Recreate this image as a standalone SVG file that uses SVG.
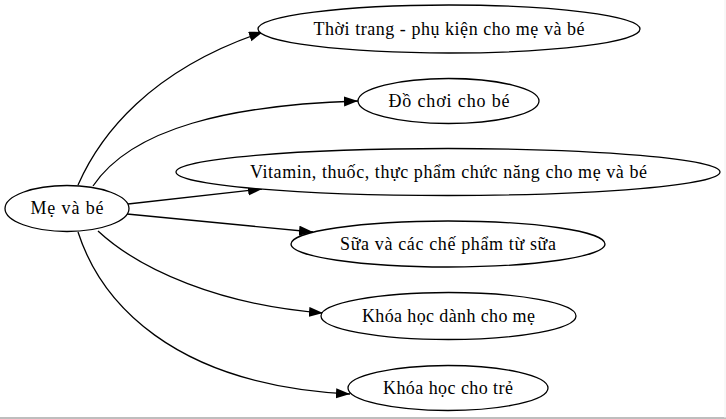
<svg xmlns="http://www.w3.org/2000/svg" width="726" height="419" viewBox="0 0 726 419">
<style>
.n ellipse{fill:#fff;stroke:#000;stroke-width:1.3}
.n text{font-family:"Liberation Serif","Times New Roman",serif;font-size:18px;fill:#000;text-anchor:middle}
#edges path{fill:none;stroke:#000;stroke-width:1.3;marker-end:url(#ah)}
</style>
<defs>
<marker id="ah" markerUnits="userSpaceOnUse" markerWidth="16" markerHeight="12" refX="14" refY="5" orient="auto" viewBox="0 0 16 12">
<path d="M0,0 L14,5 L0,10 Z" fill="#000"/>
</marker>
</defs>
<rect width="726" height="419" fill="#fff"/>
<line x1="0" y1="418" x2="726" y2="418" stroke="#a8a8a8" stroke-width="1.5"/>
<line x1="725" y1="0" x2="725" y2="418" stroke="#f0f0f0" stroke-width="1"/>
<g id="edges">
<path d="M78,185 C100,135 150,70 263,32"/>
<path d="M93,186 C132,128 230,105 358,101"/>
<path d="M128,204 L262,189"/>
<path d="M127,214 L313,232"/>
<path d="M98,231 C140,270 220,305 323,313"/>
<path d="M78,232 C100,300 170,385 350,394"/>
</g>
<g id="root" class="n"><ellipse cx="67" cy="208.5" rx="62" ry="23"/><text x="67" y="214" textLength="73" lengthAdjust="spacing">Mẹ và bé</text></g>
<g id="n1" class="n"><ellipse cx="449" cy="29" rx="191" ry="24"/><text x="449" y="35" textLength="271" lengthAdjust="spacing">Thời trang - phụ kiện cho mẹ và bé</text></g>
<g id="n2" class="n"><ellipse cx="448.5" cy="101" rx="90.5" ry="22.5"/><text x="449" y="107" textLength="121" lengthAdjust="spacing">Đồ chơi cho bé</text></g>
<g id="n3" class="n"><ellipse cx="448" cy="172" rx="272" ry="23.5"/><text x="448.5" y="178" textLength="397" lengthAdjust="spacing">Vitamin, thuốc, thực phẩm chức năng cho mẹ và bé</text></g>
<g id="n4" class="n"><ellipse cx="448" cy="244" rx="157" ry="23"/><text x="448" y="250" textLength="216" lengthAdjust="spacing">Sữa và các chế phẩm từ sữa</text></g>
<g id="n5" class="n"><ellipse cx="448.5" cy="316" rx="127.5" ry="23.5"/><text x="448.5" y="322" textLength="173" lengthAdjust="spacing">Khóa học dành cho mẹ</text></g>
<g id="n6" class="n"><ellipse cx="448" cy="388" rx="100" ry="22.5"/><text x="448" y="394" textLength="130" lengthAdjust="spacing">Khóa học cho trẻ</text></g>
</svg>
